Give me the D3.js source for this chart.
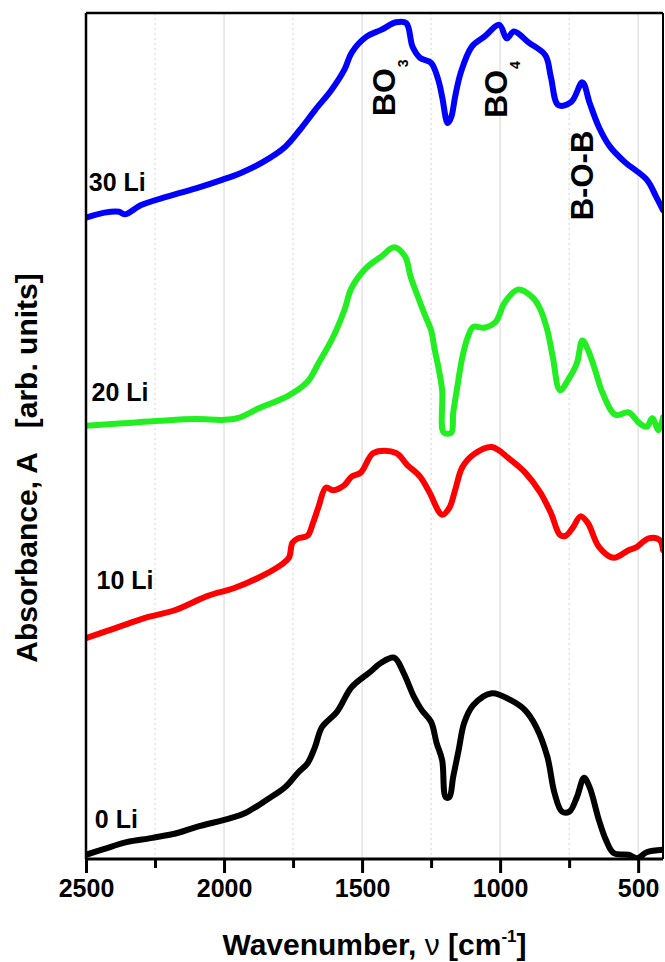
<!DOCTYPE html>
<html>
<head>
<meta charset="utf-8">
<script src="https://cdn.jsdelivr.net/npm/d3@7"></script>
<style>
  html, body { margin: 0; padding: 0; background: #fff; }
  svg { display: block; font-family: "Liberation Sans", Arial, sans-serif; }
</style>
</head>
<body>
<svg id="chart" width="665" height="962"></svg>
<script>
// ---- Data ----
const xMajorTicks = [2500, 2000, 1500, 1000, 500];
const xMinorTicks = [2250, 1750, 1250, 750];

const wn0 = [2500,2433,2353,2259,2166,2099,1979,1925,1845,1778,1732,1698,1671,1645,1591,1538,1471,1431,1384,1351,1311,1284,1250,1230,1210,1197,1184,1170,1150,1130,1097,1030,963,910,869,829,803,776,749,722,696,676,642,616,589,535,502,469,410];
const abs0 = [0.05,0.12,0.20,0.25,0.31,0.38,0.48,0.54,0.70,0.85,1.02,1.13,1.32,1.56,1.74,2.03,2.21,2.32,2.38,2.21,1.91,1.76,1.62,1.37,1.17,0.73,0.73,0.97,1.29,1.61,1.82,1.96,1.88,1.76,1.56,1.21,0.78,0.56,0.56,0.73,0.96,0.85,0.46,0.22,0.07,0.05,0.01,0.08,0.11];

const wn10 = [2500,2393,2286,2179,2059,1965,1872,1792,1765,1752,1732,1698,1678,1658,1631,1605,1564,1538,1504,1458,1377,1337,1290,1257,1210,1184,1163,1137,1097,1030,963,910,856,816,783,763,736,709,682,642,589,535,509,462,422,410];
const abs10 = [2.61,2.73,2.85,2.94,3.11,3.20,3.33,3.48,3.56,3.74,3.79,3.82,3.97,4.16,4.39,4.36,4.42,4.52,4.57,4.80,4.80,4.66,4.52,4.34,4.07,4.15,4.36,4.63,4.78,4.87,4.72,4.57,4.34,4.09,3.83,3.82,3.92,4.05,3.97,3.69,3.56,3.65,3.68,3.79,3.77,3.65];

const wn20 = [2500,2366,2233,2099,2005,1952,1872,1765,1698,1658,1605,1564,1538,1484,1431,1384,1344,1324,1297,1270,1250,1237,1224,1210,1204,1177,1170,1157,1137,1117,1097,1057,1016,983,936,883,856,829,809,783,749,722,702,682,656,629,582,535,495,469,449,426,410];
const abs20 = [5.12,5.15,5.18,5.20,5.19,5.21,5.33,5.48,5.64,5.86,6.17,6.49,6.75,6.99,7.12,7.23,7.12,6.88,6.64,6.41,6.25,6.02,5.82,5.54,5.04,5.04,5.27,5.54,5.93,6.17,6.29,6.28,6.35,6.58,6.73,6.64,6.51,6.25,5.93,5.54,5.69,5.86,6.13,6.02,5.78,5.51,5.25,5.28,5.15,5.11,5.21,5.07,5.22];

const wn30 = [2500,2433,2380,2360,2300,2206,2099,2005,1939,1858,1778,1725,1671,1611,1564,1538,1484,1431,1377,1340,1317,1290,1250,1224,1210,1190,1177,1163,1143,1103,1057,1003,976,950,896,836,816,789,742,702,676,642,602,549,469,435,410];
const abs30 = [7.58,7.64,7.65,7.62,7.73,7.83,7.93,8.03,8.11,8.24,8.42,8.62,8.85,9.09,9.33,9.53,9.72,9.80,9.89,9.88,9.60,9.47,9.41,9.21,9.01,8.70,8.77,9.01,9.29,9.60,9.72,9.86,9.70,9.78,9.65,9.50,9.24,8.91,8.95,9.18,8.94,8.65,8.42,8.24,8.03,7.83,7.67];

const seriesNames = ["0 Li", "10 Li", "20 Li", "30 Li"];
const seriesColors = ["#000000", "#ff0000", "#22ee22", "#0000ff"];
const seriesWn = [wn0, wn10, wn20, wn30];
const seriesAbs = [abs0, abs10, abs20, abs30];

const bandMain = ["BO", "BO", "B-O-B"];
const bandSub = ["3", "4", ""];
const bandWn = [1382, 976, 665];
const bandLevel = [8.78, 8.76, 7.55];

const labelLevels = [0.37, 3.19, 5.41, 7.9];
const labelWn = [2468, 2462, 2480, 2490];

// ---- Layout ----
const svg = d3.select("#chart");
const L = 86, R = 663, T = 13, B = 859;

const x = d3.scaleLinear().domain([2500, 410]).range([L, R]);
const y = d3.scaleLinear().domain([0, 10]).range([B, T]);

// grid
const grid = svg.append("g");
grid.selectAll("line.maj").data(xMajorTicks.filter(d => d !== 2500)).join("line")
  .attr("x1", d => x(d)).attr("x2", d => x(d)).attr("y1", T).attr("y2", B)
  .attr("stroke", "#dcdcdc").attr("stroke-width", 1.2);
grid.selectAll("line.min").data(xMinorTicks).join("line")
  .attr("x1", d => x(d)).attr("x2", d => x(d)).attr("y1", T).attr("y2", B)
  .attr("stroke", "#dcdcdc").attr("stroke-width", 1.2).attr("stroke-dasharray", "2,3");

// curves
const line = d3.line().x(d => x(d[0])).y(d => y(d[1])).curve(d3.curveCatmullRom.alpha(0.5));
svg.append("clipPath").attr("id", "clip").append("rect")
  .attr("x", L).attr("y", T).attr("width", R - L).attr("height", B - T);
const curves = svg.append("g").attr("clip-path", "url(#clip)");
seriesNames.forEach((name, i) => {
  const pts = seriesWn[i].map((w, k) => [w, seriesAbs[i][k]]);
  curves.append("path").datum(pts)
    .attr("d", line)
    .attr("fill", "none")
    .attr("stroke", seriesColors[i])
    .attr("stroke-width", 6)
    .attr("stroke-linejoin", "round")
    .attr("stroke-linecap", "round");
});

// frame
svg.append("line").attr("x1", L).attr("x2", R).attr("y1", T).attr("y2", T).attr("stroke", "#000").attr("stroke-width", 2.5);
svg.append("line").attr("x1", R).attr("x2", R).attr("y1", T).attr("y2", B).attr("stroke", "#000").attr("stroke-width", 2);
svg.append("line").attr("x1", L).attr("x2", L).attr("y1", T).attr("y2", B).attr("stroke", "#000").attr("stroke-width", 2.5);

// bottom axis
const xAxis = d3.axisBottom(x).tickValues(xMajorTicks).tickSize(14).tickPadding(6).tickFormat(d3.format("d"));
const gx = svg.append("g").attr("transform", `translate(0,${B})`).call(xAxis);
gx.select(".domain").attr("stroke-width", 3).attr("d", `M${L},0H${R}`);
gx.selectAll(".tick line").attr("stroke-width", 3);
gx.selectAll(".tick text").attr("font-size", 25).attr("font-weight", "bold")
  .attr("font-family", "Liberation Sans, Arial, sans-serif").attr("fill", "#000");
const xAxisMinor = d3.axisBottom(x).tickValues(xMinorTicks).tickSize(9).tickFormat("");
const gxm = svg.append("g").attr("transform", `translate(0,${B})`).call(xAxisMinor);
gxm.select(".domain").remove();
gxm.selectAll(".tick line").attr("stroke-width", 3);

// x title
const xt = svg.append("text").attr("x", (L + R) / 2).attr("y", 955)
  .attr("text-anchor", "middle").attr("font-size", 30).attr("font-weight", "bold");
xt.append("tspan").text("Wavenumber, ");
xt.append("tspan").attr("font-weight", "normal").text("ν");
xt.append("tspan").text(" [cm");
xt.append("tspan").attr("font-size", 17).attr("dy", -13).text("-1");
xt.append("tspan").attr("dy", 13).text("]");

// y title
svg.append("text")
  .attr("transform", `translate(37,468) rotate(-90)`)
  .attr("text-anchor", "middle").attr("font-size", 30).attr("font-weight", "bold")
  .attr("xml:space", "preserve").style("white-space", "pre")
  .text("Absorbance, A   [arb. units]");

// series labels
seriesNames.forEach((name, i) => {
  svg.append("text").attr("x", x(labelWn[i])).attr("y", y(labelLevels[i]))
    .attr("font-size", 25).attr("font-weight", "bold").attr("fill", "#000").text(name);
});

// band labels
bandMain.forEach((m, i) => {
  const t = svg.append("text")
    .attr("transform", `translate(${x(bandWn[i])},${y(bandLevel[i])}) rotate(-90)`)
    .attr("font-size", i === 2 ? 31 : 32).attr("font-weight", "bold").attr("fill", "#000");
  t.append("tspan").text(m);
  if (bandSub[i]) t.append("tspan").attr("font-size", 14).attr("dy", 13).attr("dx", 1).text(bandSub[i]);
});
</script>
</body>
</html>
